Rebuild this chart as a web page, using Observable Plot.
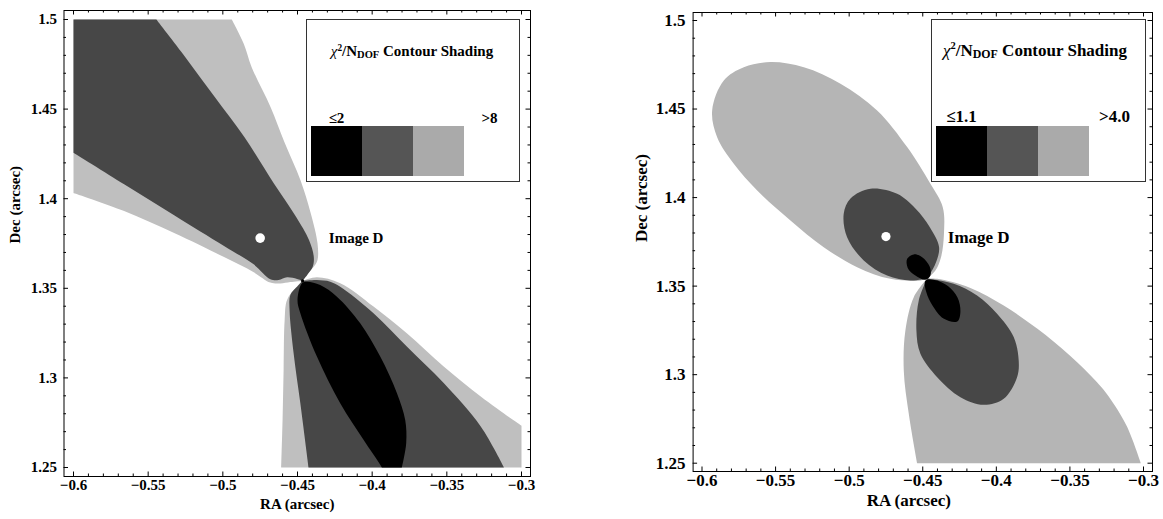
<!DOCTYPE html>
<html><head><meta charset="utf-8">
<script src="https://cdn.jsdelivr.net/npm/d3@7"></script>
<script src="https://cdn.jsdelivr.net/npm/@observablehq/plot@0.6"></script>
<style>
html,body{margin:0;padding:0;background:#fff;}
#wrap{position:relative;width:1163px;height:519px;overflow:hidden;font-family:"Liberation Serif","Times New Roman",serif;font-weight:bold;color:#000;}
#wrap svg{position:absolute;top:0;}
.legend{position:absolute;border:1px solid #333;box-sizing:border-box;background:#fff;}
.legend .t{position:absolute;white-space:nowrap;transform:translate(-50%,-50%);line-height:1;}
.legend .sw{position:absolute;}
</style></head><body><div id="wrap"></div>
<script>
// ---------- tick values ----------
const majorX = [-0.6, -0.55, -0.5, -0.45, -0.4, -0.35, -0.3];
const majorY = [1.25, 1.3, 1.35, 1.4, 1.45, 1.5];
const minorX = d3.range(0, 31).map(i => +(-0.6 + i * 0.01).toFixed(2)).filter(v => !majorX.includes(v));
const minorY = d3.range(0, 26).map(i => +(1.25 + i * 0.01).toFixed(2)).filter(v => !majorY.includes(v));

// ---------- left panel contour regions [RA, Dec] ----------
const pinchLeft = [-0.4466, 1.3541];
const leftLightUpper = [[-0.6,1.5],[-0.494,1.5],[-0.486,1.4865],[-0.4807,1.4734],[-0.468,1.4511],[-0.4588,1.4317],[-0.448,1.4103],[-0.4411,1.3918],[-0.4366,1.3751],[-0.4366,1.3658],[-0.4391,1.362],[-0.4435,1.358],[-0.4466,1.3541],[-0.4548,1.3535],[-0.4615,1.3527],[-0.4682,1.3532],[-0.4796,1.3591],[-0.4992,1.3674],[-0.5326,1.3808],[-0.5661,1.3931],[-0.6,1.4032]];
const leftDarkUpper = [[-0.6,1.5],[-0.5445,1.5],[-0.5251,1.479],[-0.5054,1.4567],[-0.4856,1.4344],[-0.4658,1.4085],[-0.451,1.3899],[-0.4423,1.3769],[-0.4391,1.3676],[-0.4398,1.362],[-0.4435,1.3574],[-0.4466,1.3541],[-0.4503,1.3552],[-0.457,1.3561],[-0.4627,1.3546],[-0.4682,1.3551],[-0.4796,1.3635],[-0.4992,1.3736],[-0.5326,1.3908],[-0.5661,1.4081],[-0.6,1.4257]];
const leftLightLower = [[-0.4466,1.3541],[-0.437,1.3561],[-0.4214,1.3528],[-0.3991,1.3398],[-0.3768,1.3249],[-0.3521,1.3063],[-0.3273,1.2896],[-0.3075,1.2776],[-0.3,1.2733],[-0.3,1.25],[-0.4609,1.25],[-0.46,1.2766],[-0.4593,1.3045],[-0.4586,1.3323],[-0.457,1.3435],[-0.4515,1.35]];
const leftDarkLower = [[-0.4466,1.3541],[-0.437,1.3546],[-0.4281,1.3537],[-0.4214,1.3509],[-0.3991,1.3361],[-0.3768,1.3175],[-0.3521,1.2971],[-0.3273,1.2729],[-0.3117,1.25],[-0.4426,1.25],[-0.4481,1.2859],[-0.4526,1.3138],[-0.4553,1.3379],[-0.4548,1.3463],[-0.4503,1.3509]];
const leftBlack = [[-0.447,1.3528],[-0.45,1.3435],[-0.4481,1.3361],[-0.437,1.3119],[-0.4214,1.2859],[-0.4058,1.2655],[-0.3946,1.2516],[-0.3935,1.25],[-0.3801,1.25],[-0.3772,1.2637],[-0.3779,1.2766],[-0.3834,1.2915],[-0.3946,1.3119],[-0.408,1.3305],[-0.4236,1.3453],[-0.4348,1.3518],[-0.4437,1.3537]];

// ---------- right panel contour regions [RA, Dec] ----------
const pinchRight = [-0.447, 1.3543];
const rightLightUpper = [[-0.5535,1.4765],[-0.5308,1.4736],[-0.5059,1.4643],[-0.481,1.4492],[-0.4606,1.4285],[-0.4448,1.4078],[-0.4364,1.3946],[-0.4356,1.3795],[-0.4376,1.3663],[-0.4414,1.3588],[-0.447,1.3543],[-0.4516,1.3532],[-0.472,1.3541],[-0.4946,1.3607],[-0.5173,1.372],[-0.5399,1.3871],[-0.5625,1.404],[-0.5784,1.4191],[-0.5897,1.4341],[-0.5931,1.4492],[-0.5852,1.4661],[-0.5716,1.4736]];
const rightDarkUpper = [[-0.5037,1.3908],[-0.4991,1.3995],[-0.4855,1.405],[-0.4674,1.4021],[-0.455,1.3938],[-0.4452,1.3833],[-0.4389,1.372],[-0.4414,1.3626],[-0.447,1.3543],[-0.4584,1.3532],[-0.4742,1.356],[-0.4901,1.3645],[-0.5014,1.3776]];
const rightBlackUpper = [[-0.4606,1.3654],[-0.4561,1.3679],[-0.4504,1.3663],[-0.4453,1.3611],[-0.4448,1.356],[-0.4482,1.3536],[-0.455,1.356],[-0.4602,1.3603]];
const rightLightLower = [[-0.447,1.3543],[-0.4402,1.3541],[-0.4176,1.349],[-0.395,1.339],[-0.3723,1.326],[-0.3497,1.3105],[-0.3327,1.2967],[-0.3239,1.288],[-0.3114,1.271],[-0.3018,1.25],[-0.4538,1.25],[-0.4595,1.2779],[-0.4629,1.3024],[-0.4618,1.3249],[-0.4561,1.3437]];
const rightDarkLower = [[-0.447,1.3543],[-0.429,1.3513],[-0.4131,1.3447],[-0.3995,1.3344],[-0.3882,1.3212],[-0.3848,1.308],[-0.3859,1.2986],[-0.395,1.2864],[-0.4086,1.283],[-0.4244,1.2873],[-0.4402,1.2986],[-0.4516,1.3118],[-0.4543,1.3249],[-0.4527,1.3419]];
const rightBlackLower = [[-0.4482,1.3531],[-0.4475,1.3464],[-0.4434,1.3391],[-0.4359,1.3317],[-0.4266,1.33],[-0.4244,1.3357],[-0.4264,1.3436],[-0.4329,1.3501],[-0.4419,1.3535]];

// ---------- points and labels ----------
const bestFit = [[-0.475, 1.378]];
const imageLabelLeft = [{ra: -0.429, dec: 1.378, text: "Image D"}];
const imageLabelRight = [{ra: -0.433, dec: 1.3773, text: "Image D"}];
const legendLeft = {min: "≤2", max: ">8"};
const legendRight = {min: "≤1.1", max: ">4.0"};
const legendColors = ["#000000", "#555555", "#aaaaaa"];

const fmt = d => String(d).replace("-", "\u2212");

function withCorners(pts, pinch) {
  const edge = p => p[0] === -0.6 || p[0] === -0.3 || p[1] === 1.5 || p[1] === 1.25 ||
    (p[0] === pinch[0] && p[1] === pinch[1]);
  return pts.flatMap(p => edge(p) ? [p, p] : [p]);
}

function panel(o) {
  const m = o.m, pw = o.width - m.left - m.right, ph = o.height - m.top - m.bottom;
  const tickSet = (xs, ys, len) => [
    Plot.tickX(xs, {x: d => d, insetTop: ph - len, stroke: "#000"}),
    Plot.tickX(xs, {x: d => d, insetBottom: ph - len, stroke: "#000"}),
    Plot.tickY(ys, {y: d => d, insetRight: pw - len, stroke: "#000"}),
    Plot.tickY(ys, {y: d => d, insetLeft: pw - len, stroke: "#000"})
  ];
  const shapeMarks = o.shapes.map(([pts, color]) =>
    Plot.line(withCorners(pts, o.pinch), {x: d => d[0], y: d => d[1], fill: color, stroke: "none", curve: "catmull-rom-closed"}));
  const marks = [
    ...shapeMarks,
    Plot.dot(bestFit, {x: d => d[0], y: d => d[1], r: o.dotR, fill: "white", stroke: "none"}),
    ...(o.pinchDot ? [Plot.dot([o.pinch], {x: d => d[0], y: d => d[1], r: 1.6, fill: "black"})] : []),
    Plot.text(o.imageLabel, {x: "ra", y: "dec", text: "text", textAnchor: "start", fontSize: o.font, fontWeight: "bold"}),
    Plot.frame({stroke: "#000", strokeWidth: 1}),
    ...tickSet(majorX, majorY, 4.5),
    ...tickSet(minorX, minorY, 2.5),
    Plot.axisX(majorX, {anchor: "bottom", tickSize: 0, tickPadding: o.padX, tickFormat: fmt, label: null, fontSize: o.font, fontWeight: "bold"}),
    Plot.axisY(majorY, {anchor: "left", tickSize: 0, tickPadding: o.padY, tickFormat: fmt, label: null, fontSize: o.font, fontWeight: "bold"}),
    Plot.text(["RA (arcsec)"], {frameAnchor: "bottom", dy: o.xLabDy, dx: o.xLabDx, text: d => d, fontSize: o.font, fontWeight: "bold"}),
    Plot.text(["Dec (arcsec)"], {frameAnchor: "left", dx: o.yLabDx, rotate: -90, text: d => d, fontSize: o.font, fontWeight: "bold"})
  ];
  const svg = Plot.plot({
    width: o.width, height: o.height,
    marginTop: m.top, marginRight: m.right, marginBottom: m.bottom, marginLeft: m.left,
    x: {domain: [-0.6, -0.3], insetLeft: o.inset.l, insetRight: o.inset.r},
    y: {domain: [1.25, 1.5], insetTop: o.inset.t, insetBottom: o.inset.b},
    style: {fontFamily: "'Liberation Serif', 'Times New Roman', serif", fontSize: o.font + "px", fontWeight: "bold", background: "white", color: "#000", overflow: "visible"},
    marks
  });
  svg.style.left = o.left + "px";
  return svg;
}

function legend(o) {
  const box = document.createElement("div");
  box.className = "legend";
  Object.assign(box.style, {left: o.left + "px", top: o.top + "px", width: o.w + "px", height: o.h + "px", fontSize: o.font + "px"});
  let html = `<div class="t" style="left:${o.titleX}px;top:${o.titleY}px"><i style="font-weight:normal">χ</i><span style="font-size:.62em;position:relative;top:-.6em">2</span>/N<span style="font-size:.7em;position:relative;top:.2em">DOF</span> Contour Shading</div>`;
  legendColors.forEach((c, i) => {
    html += `<div class="sw" style="left:${o.swX + i * o.swW}px;top:${o.swY}px;width:${o.swW}px;height:${o.swH}px;background:${c}"></div>`;
  });
  html += `<div class="t" style="left:${o.swX + o.swW / 2}px;top:${o.labY}px">${o.labels.min}</div>`;
  html += `<div class="t" style="left:${o.swX + 3.5 * o.swW}px;top:${o.labY}px">${o.labels.max}</div>`;
  box.innerHTML = html;
  return box;
}

const wrap = document.getElementById("wrap");
wrap.appendChild(panel({
  left: 0, width: 580, height: 519, m: {top: 10, right: 50, bottom: 43, left: 63.5},
  inset: {l: 9.5, r: 9, t: 9, b: 9}, font: 15, padX: 3, padY: 7, xLabDy: 32, xLabDx: 0, yLabDx: -48.7, dotR: 4.8,
  pinch: pinchLeft, pinchDot: true, imageLabel: imageLabelLeft,
  shapes: [[leftLightUpper, "#bfbfbf"], [leftLightLower, "#bfbfbf"], [leftDarkUpper, "#474747"], [leftDarkLower, "#474747"], [leftBlack, "#000000"]]
}));
wrap.appendChild(panel({
  left: 580, width: 583, height: 519, m: {top: 12, right: 11, bottom: 48, left: 112.6},
  inset: {l: 8.9, r: 9, t: 8, b: 8.3}, font: 17, padX: 2.5, padY: 7.5, xLabDy: 34, xLabDx: -14, yLabDx: -51.3, dotR: 4.6,
  pinch: pinchRight, pinchDot: false, imageLabel: imageLabelRight,
  shapes: [[rightLightUpper, "#b5b5b5"], [rightLightLower, "#b5b5b5"], [rightDarkUpper, "#474747"], [rightDarkLower, "#474747"], [rightBlackUpper, "#000000"], [rightBlackLower, "#000000"]]
}));
wrap.appendChild(legend({left: 306, top: 19, w: 214, h: 163, font: 15, titleX: 105, titleY: 31.4, swX: 4, swY: 105.7, swW: 51, swH: 50.7, labY: 98, labels: legendLeft}));
wrap.appendChild(legend({left: 931, top: 19, w: 215, h: 163, font: 17, titleX: 103, titleY: 29.7, swX: 4, swY: 105.7, swW: 51, swH: 50.7, labY: 96.4, labels: legendRight}));
</script></body></html>
